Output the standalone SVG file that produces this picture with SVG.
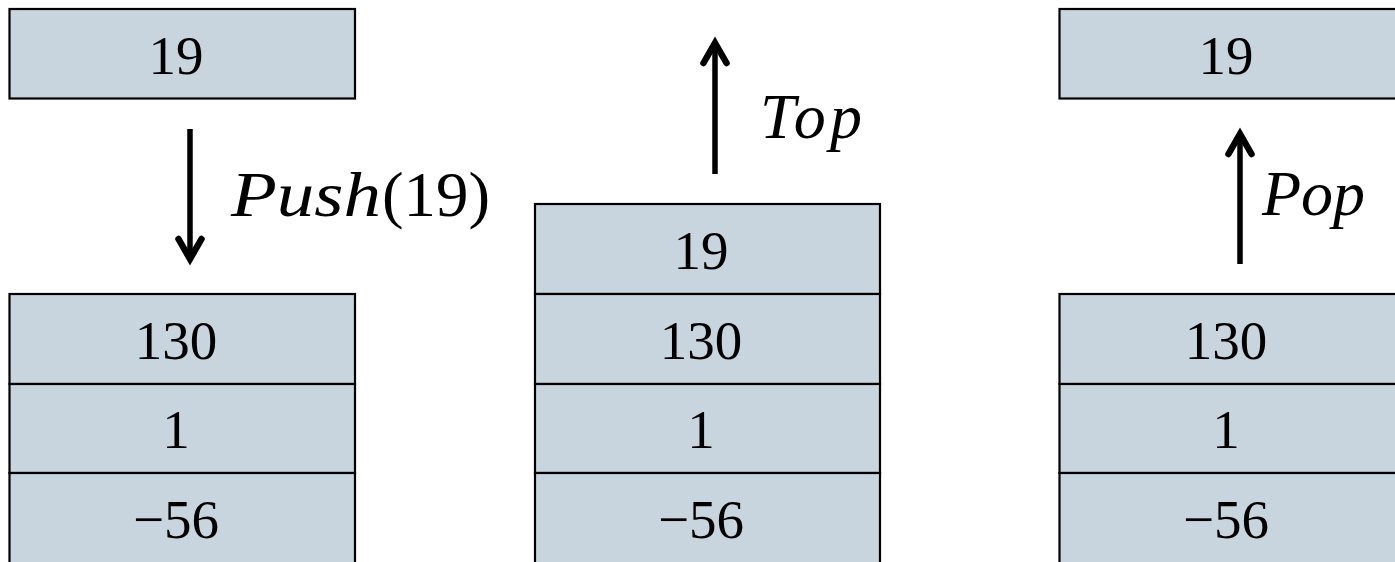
<svg xmlns="http://www.w3.org/2000/svg" width="1395" height="562" viewBox="0 0 1395 562">
<style>
.cell{fill:#c8d5de;stroke:#000;stroke-width:2.2}
.num{font-family:"Liberation Serif",serif;font-size:55px;fill:#000;text-anchor:middle}
.lbl{font-family:"Liberation Serif",serif;font-size:64px;fill:#000}
.it{font-style:italic}
.arr{stroke:#000;stroke-width:5.5;fill:none}
</style>
<defs>
<marker id="head" markerUnits="userSpaceOnUse" viewBox="-30 -20 40 40" markerWidth="40" markerHeight="40" refX="0" refY="0" orient="auto" overflow="visible">
<path d="M-20,-11.5 L0,0 L-20,11.5" fill="none" stroke="#000" stroke-width="6.5" stroke-linejoin="miter" stroke-linecap="round"/>
</marker>
</defs>
<rect width="1395" height="562" fill="#fff"/>

<g id="stack1-pushed">
<rect class="cell" x="9.5" y="9" width="345.5" height="89.5"/>
<text class="num" x="176" y="74">19</text>
</g>
<g id="stack1">
<rect class="cell" x="9.5" y="294" width="345.5" height="90"/>
<text class="num" x="176" y="359">130</text>
<rect class="cell" x="9.5" y="384" width="345.5" height="89"/>
<text class="num" x="176" y="448">1</text>
<rect class="cell" x="9.5" y="473" width="345.5" height="95"/>
<text class="num" x="176" y="538">−56</text>
</g>

<g id="stack2">
<rect class="cell" x="535" y="204" width="345" height="90"/>
<text class="num" x="701" y="269">19</text>
<rect class="cell" x="535" y="294" width="345" height="90"/>
<text class="num" x="701" y="359">130</text>
<rect class="cell" x="535" y="384" width="345" height="89"/>
<text class="num" x="701" y="448">1</text>
<rect class="cell" x="535" y="473" width="345" height="95"/>
<text class="num" x="701" y="538">−56</text>
</g>

<g id="stack3-popped">
<rect class="cell" x="1059.5" y="9" width="345" height="89.5"/>
<text class="num" x="1226" y="74">19</text>
</g>
<g id="stack3">
<rect class="cell" x="1059.5" y="294" width="345" height="90"/>
<text class="num" x="1226" y="359">130</text>
<rect class="cell" x="1059.5" y="384" width="345" height="89"/>
<text class="num" x="1226" y="448">1</text>
<rect class="cell" x="1059.5" y="473" width="345" height="95"/>
<text class="num" x="1226" y="538">−56</text>
</g>

<g id="connectors">
<line class="arr" x1="190" y1="129" x2="190" y2="259" marker-end="url(#head)"/>
<line class="arr" x1="715" y1="174" x2="715" y2="43" marker-end="url(#head)"/>
<line class="arr" x1="1240" y1="264" x2="1240" y2="134" marker-end="url(#head)"/>
</g>

<g id="labels">
<text class="lbl it" x="231" y="216" textLength="150" lengthAdjust="spacingAndGlyphs">Push</text>
<text class="lbl" x="382" y="216" textLength="108" lengthAdjust="spacingAndGlyphs">(19)</text>
<text class="lbl it" x="760" y="138" textLength="102" lengthAdjust="spacing">Top</text>
<text class="lbl it" x="1262" y="215" textLength="103" lengthAdjust="spacing">Pop</text>
</g>
</svg>
